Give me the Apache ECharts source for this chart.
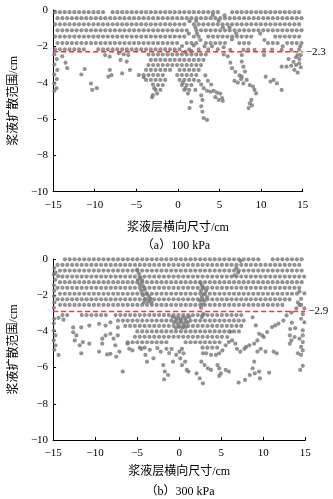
<!DOCTYPE html>
<html><head><meta charset="utf-8">
<script src="https://cdn.jsdelivr.net/npm/echarts@6/dist/echarts.min.js"></script>
<style>html,body{margin:0;padding:0;background:#fff}#c{width:333px;height:499px}</style>
</head><body><div id="c"></div>
<script>
// lattice of particle x positions (cm) for alternating packed rows
const latticeE = [-14.75,-14.18,-13.6,-13.03,-12.45,-11.88,-11.3,-10.73,-10.15,-9.58,-9.0,-8.43,-7.85,-7.28,-6.7,-6.13,-5.55,-4.98,-4.4,-3.83,-3.25,-2.68,-2.1,-1.53,-0.95,-0.38,0.2,0.77,1.35,1.92,2.5,3.07,3.65,4.22,4.8,5.37,5.95,6.52,7.1,7.67,8.25,8.82,9.4,9.97,10.55,11.12,11.7,12.27,12.85,13.42,14.0,14.57];
const latticeO = [-14.47,-13.89,-13.32,-12.74,-12.17,-11.59,-11.02,-10.44,-9.87,-9.29,-8.72,-8.14,-7.57,-6.99,-6.42,-5.84,-5.27,-4.69,-4.12,-3.54,-2.97,-2.39,-1.82,-1.24,-0.67,-0.09,0.48,1.06,1.63,2.21,2.78,3.36,3.93,4.51,5.08,5.66,6.23,6.81,7.38,7.96,8.53,9.11,9.68,10.26,10.83,11.41,11.98,12.56,13.13,13.71,14.28,14.86];

// panel (a) 100 kPa: packed rows [y, lattice, x-extents]
const rowsA = [
  [-0.12,'E',[[-15,-8.8],[-8.2,5.3],[6.0,15]]],
  [-0.45,'O',[[-15,15]]],
  [-0.79,'E',[[-15,0.9],[1.6,15]]],
  [-1.12,'O',[[-15,1.2],[1.8,15]]],
  [-1.46,'E',[[-15,1.0],[1.6,3.0],[3.4,9.2],[11.2,15]]],
  [-1.82,'O',[[-15,0.0],[1.0,2.4],[3.0,6.0],[7.0,9.0],[10.3,12.0],[13.0,15]]],
  [-2.17,'E',[[-14.8,-13.0],[-12.5,-11.0],[-9.6,-7.6],[-7.4,0.3],[1.0,1.5],[2.3,2.6],[3.5,3.8],[4.6,4.9]]],
  [-2.45,'O',[[-3.9,3.6]]],
  [-2.75,'E',[[-3.5,3.3]]],
  [-3.03,'O',[[-4.1,3.0]]],
  [-3.30,'E',[[-4.3,-0.8],[-0.3,2.7]]],
  [-3.58,'O',[[-4.7,-1.3],[-0.6,2.4]]],
  [-3.85,'E',[[-4.1,-1.5],[-0.3,2.0]]],
  [-4.13,'O',[[-2.8,-1.5],[0.4,1.8]]],
  [-4.40,'E',[[-2.7,-1.9],[0.7,1.5]]]
];
// panel (a) loose particles [x, y]
const scatterA = [
  [1.4,-0.62],[2.2,-0.6],[2.1,-0.95],[2.3,-1.3],[1.3,-1.3],[2.7,-1.65],[1.9,-1.95],[0.5,-1.98],[0.9,-2.3],[1.6,-2.25],
  [6.5,-1.62],[7.0,-1.3],[6.2,-0.95],[9.9,-1.3],[10.4,-1.65],[12.6,-2.0],[14.7,-2.0],[4.2,-0.28],[5.6,-0.3],[4.9,-0.6],
  [5.4,-0.95],[3.2,-2.0],[4.1,-2.0],[5.5,-2.05],[6.3,-2.2],
  [7.87,-2.2],[8.45,-2.18],[9.21,-2.2],[10.36,-2.2],[11.32,-2.18],[12.47,-2.2],[13.62,-2.2],[14.58,-2.18],
  [-14.85,-2.45],[-14.55,-2.7],[-14.85,-3.0],[-14.5,-3.3],[-14.85,-3.55],[-14.55,-3.8],[-14.85,-4.05],[-14.6,-4.3],[-14.85,-4.45],
  [-13.9,-2.55],[-13.5,-2.9],[-13.3,-3.2],[-11.6,-3.55],[-11.2,-3.25],[-10.45,-4.05],[-10.3,-4.4],[-9.75,-4.3],
  [-8.75,-2.48],[-8.2,-2.57],[-8.18,-3.3],[-8.36,-3.67],[-7.98,-3.58],
  [-7.1,-2.38],[-6.5,-2.44],[-5.96,-2.48],[-6.9,-2.75],[-6.15,-2.84],[-6.7,-3.49],[-5.77,-3.3],
  [-4.1,-3.7],[-3.0,-4.1],[-2.85,-4.3],[-3.0,-4.68],[-3.1,-4.8],[-2.5,-4.6],
  [0.9,-4.3],[1.2,-4.6],[2.1,-4.4],[2.5,-3.9],[2.8,-4.1],[3.1,-4.3],[3.5,-4.45],[3.9,-4.5],[4.3,-4.45],[4.7,-4.55],
  [5.1,-4.6],[5.3,-4.85],[4.9,-4.95],[5.4,-5.0],[4.5,-4.8],[2.8,-4.7],
  [1.6,-5.05],[1.4,-5.4],[2.95,-4.95],[2.8,-5.3],[2.95,-5.6],[3.1,-5.95],[3.5,-6.05],[0.6,-4.0],[3.3,-3.6],[3.6,-3.9],[4.0,-4.1],
  [5.5,-2.45],[6.0,-2.55],[6.3,-2.9],[6.5,-3.2],[6.9,-3.4],[7.4,-3.6],[6.8,-3.9],[7.2,-4.0],[7.6,-3.8],
  [7.68,-2.48],[7.68,-2.84],[7.87,-3.12],[8.06,-3.39],[7.68,-3.67],[8.26,-3.85],[7.87,-4.04],[8.64,-4.13],[9.02,-4.22],
  [9.21,-4.4],[9.4,-4.59],[8.83,-4.95],[8.64,-5.14],[8.9,-5.25],[8.5,-5.4],
  [10.36,-2.48],[10.55,-3.67],[11.13,-3.94],[11.51,-3.85],[11.9,-4.04],[12.47,-4.4],
  [12.47,-3.12],[13.05,-3.12],[13.62,-3.07],[14.2,-3.03],[14.58,-2.94],[14.77,-3.15],[14.0,-3.3],[14.4,-3.45],
  [14.6,-2.7],[14.2,-2.6],[14.77,-2.48],[13.9,-2.85],[14.39,-2.48],[13.3,-2.7]
];

// panel (b) 300 kPa
const rowsB = [
  [-0.02,'E',[[-14.6,-14.4],[-13.9,6.6],[7.0,9.9],[10.7,15]]],
  [-0.33,'O',[[-14.6,14.3]]],
  [-0.64,'E',[[-14.3,15]]],
  [-0.97,'O',[[-14.0,15]]],
  [-1.28,'E',[[-14.3,15]]],
  [-1.59,'O',[[-14.6,14.4]]],
  [-1.92,'E',[[-14.3,14.1]]],
  [-2.23,'O',[[-14.6,13.3]]],
  [-2.54,'E',[[-14.3,12.3]]],
  [-3.10,'O',[[-14.3,-13.0],[-11.9,-8.4],[-7.7,7.9]]],
  [-3.40,'E',[[-7.7,7.7]]],
  [-3.70,'O',[[-6.9,7.5]]],
  [-4.00,'E',[[-5.4,7.4]]],
  [-4.30,'O',[[-5.4,5.4]]],
  [-4.60,'E',[[-6.2,-1.5],[0.3,5.0]]],
  [-4.90,'O',[[-5.0,-3.6],[2.6,4.6]]]
];
const scatterB = [
  [-14.85,-0.5],[-14.9,-0.85],[-14.75,-1.15],[-14.9,-1.45],[-14.85,-1.75],[-14.9,-2.05],[-14.85,-2.4],[-14.9,-2.7],
  [-14.85,-3.3],[-14.92,-3.55],[-14.7,-0.75],[-14.4,-0.95],
  [-14.35,-3.25],[-13.77,-3.35],[-12.61,-3.78],[-11.65,-3.78],[-10.69,-3.68],[-9.53,-3.58],[-8.76,-3.68],[-8.18,-3.5],
  [-14.92,-3.95],[-14.73,-4.22],[-14.92,-4.5],[-14.73,-4.77],[-14.85,-5.02],[-14.35,-5.3],
  [-12.61,-4.05],[-12.23,-4.22],[-12.42,-4.5],[-11.84,-4.77],[-11.46,-4.59],[-10.69,-4.68],[-11.65,-5.21],
  [-9.53,-5.12],[-8.57,-5.27],[-8.18,-5.24],[-9.15,-4.68],[-8.76,-4.22],[-8.18,-4.13],[-7.8,-4.4],[-7.6,-4.77],[-9.15,-4.4],
  [-7.3,-4.22],[-7.3,-3.78],[-6.14,-4.68],[-5.95,-4.96],[-5.56,-5.05],[-7.1,-5.12],[-7.49,-5.4],[-6.72,-6.22],
  [-4.5,-4.97],[-4.02,-5.3],[-3.5,-5.02],[-3.06,-5.49],[-3.83,-5.67],[-2.6,-4.92],[-2.2,-5.12],[-1.9,-5.86],[-1.71,-6.22],
  [-1.32,-6.41],[-1.2,-5.2],[-0.9,-4.97],[-0.75,-5.67],[-0.36,-5.3],[0.02,-5.12],[-1.52,-4.96],
  [-1.79,-6.65],[0.9,-6.13],[2.06,-6.32],[2.44,-6.6],[2.82,-6.87],[4.76,-6.46],[7.07,-6.83],[7.84,-6.68],[8.4,-6.41],
  [8.99,-6.32],[9.6,-6.6],[10.7,-6.28],[14.4,-6.13],
  [0.33,-4.96],[0.52,-5.21],[0.13,-5.49],[0.71,-5.67],[0.33,-5.86],[1.1,-6.22],[2.64,-5.67],[3.02,-5.86],[3.41,-6.04],
  [3.79,-6.13],[4.56,-5.86],[4.76,-6.04],[4.95,-6.32],[5.53,-6.13],[5.91,-6.22],
  [5.72,-4.31],[5.91,-4.59],[5.53,-4.77],[5.14,-5.05],[4.76,-5.21],[4.37,-5.3],[3.79,-5.3],[3.21,-5.21],[2.83,-5.21],
  [6.3,-4.5],[6.68,-4.68],[6.87,-4.96],[7.26,-5.12],[6.1,-4.02],
  [14.31,-2.54],[13.93,-2.73],[13.35,-2.96],[12.77,-3.12],[12.39,-3.4],[11.81,-3.57],[11.42,-3.67],[11.04,-3.76],
  [10.46,-4.04],[9.88,-4.22],[9.3,-4.5],[8.92,-4.68],[8.34,-4.77],[7.96,-4.86],[7.76,-4.96],
  [8.73,-3.22],[9.11,-3.67],[9.5,-4.13],[10.07,-4.31],[9.69,-4.96],[9.3,-5.12],[10.27,-5.12],[11.23,-5.12],[11.61,-5.21],
  [8.92,-5.67],[8.73,-6.04],[9.5,-6.22],
  [13.16,-4.22],[13.73,-4.31],[14.31,-4.4],[14.7,-3.94],[14.7,-4.22],[14.7,-4.59],[14.5,-4.86],[14.7,-5.05],[14.5,-5.3],
  [14.12,-5.21],[13.16,-4.68],[13.35,-4.5],[14.7,-5.9],
  [14.5,-2.54],[14.89,-2.73],[14.7,-3.05],[14.5,-3.3],[14.89,-3.5],[13.4,-3.52],[13.8,-3.82],[13.2,-3.87],
  [14.12,-2.4],[14.5,-2.2],[14.89,-1.9],[14.31,-1.8],
  [-5.0,-0.6],[-4.8,-0.8],[-4.6,-1.05],[-4.9,-1.15],[-4.4,-1.2],[-4.7,-1.4],[-4.3,-1.5],[-4.5,-1.75],[-4.1,-1.7],
  [-3.9,-1.9],[-4.3,-2.0],[-3.6,-2.05],[-3.4,-2.2],[-4.0,-2.2],[-3.7,-2.35],[-3.3,-2.4],[-4.2,-2.4],
  [2.5,-1.3],[2.7,-1.45],[2.9,-1.6],[2.6,-1.75],[3.2,-1.75],[2.9,-1.95],[2.7,-2.1],[3.3,-2.1],[2.5,-2.3],[3.0,-2.3],
  [2.8,-2.5],[2.6,-2.7],[2.9,-3.05],[2.7,-3.2],
  [-0.8,-3.2],[-0.4,-3.25],[0.0,-3.3],[0.4,-3.25],[0.8,-3.25],[1.2,-3.2],[-0.6,-3.5],[-0.2,-3.55],[0.2,-3.5],
  [0.6,-3.55],[1.0,-3.5],[-0.4,-3.8],[0.0,-3.75],[0.4,-3.8],[0.8,-3.75],
  [7.3,-0.1],[6.8,-0.5],[7.0,-0.75],[6.6,-0.9]
];

const refA = -2.3, refB = -2.9;
const xRange = [-15, 15], yRange = [-10, 0];
const captions = ['（a）100 kPa', '（b）300 kPa'];
const xName = '浆液层横向尺寸/cm', yName = '浆液扩散范围/cm';
const RED = '#f03c3c';

function buildRows(rows) {
  const pts = [];
  rows.forEach(([y, lat, segs]) => {
    const xs = lat === 'E' ? latticeE : latticeO;
    xs.forEach(x => { if (segs.some(([a, b]) => x >= a && x <= b)) pts.push([x, y]); });
  });
  return pts;
}

const FONT = "'Liberation Serif','Noto Sans CJK SC',serif";
const minus = v => String(v).replace('-', '\u2212');
function xAx(i, gap) {
  return {
    gridIndex: i, type: 'value', min: xRange[0], max: xRange[1], interval: 5,
    name: xName, nameLocation: 'middle', nameGap: gap,
    nameTextStyle: { fontFamily: FONT, fontSize: 12, color: '#000' },
    axisLine: { onZero: false, lineStyle: { color: '#000', width: 1 } },
    axisTick: { inside: true, length: 3, lineStyle: { color: '#000' } },
    axisLabel: { formatter: minus, fontFamily: FONT, fontSize: 11, color: '#000', margin: 8 },
    splitLine: { show: false }
  };
}
function yAx(i) {
  return {
    gridIndex: i, type: 'value', min: yRange[0], max: yRange[1], interval: 2,
    name: yName, nameLocation: 'middle', nameGap: 24,
    nameTextStyle: { fontFamily: FONT, fontSize: 12, color: '#000' },
    axisLine: { onZero: false, lineStyle: { color: '#000', width: 1 } },
    axisTick: { inside: true, length: 3, lineStyle: { color: '#000' } },
    axisLabel: { formatter: minus, fontFamily: FONT, fontSize: 11, color: '#000', margin: 5 },
    splitLine: { show: false }
  };
}
function dots(i, data) {
  return {
    type: 'scatter', xAxisIndex: i, yAxisIndex: i, data: data, z: 2,
    symbol: 'circle', symbolSize: 4.2, itemStyle: { color: '#787878' }
  };
}
function refLine(i, ref) {
  return {
    type: 'line', xAxisIndex: i, yAxisIndex: i, z: 10,
    data: [[xRange[0], ref], [xRange[1], ref]],
    showSymbol: false, symbol: 'none', silent: true,
    lineStyle: { color: RED, type: [5, 3], width: 1.4 },
    itemStyle: { color: RED },
    endLabel: { show: true, formatter: minus(ref), color: '#000', fontFamily: FONT, fontSize: 11, distance: 3 }
  };
}

const chart = echarts.init(document.getElementById('c'), null, { renderer: 'canvas' });
chart.setOption({
  animation: false,
  backgroundColor: '#fff',
  title: [
    { text: captions[0], left: 171, top: 235, textAlign: 'center', textStyle: { fontFamily: FONT, fontSize: 12, fontWeight: 'normal', color: '#000' } },
    { text: captions[1], left: 175, top: 481, textAlign: 'center', textStyle: { fontFamily: FONT, fontSize: 12, fontWeight: 'normal', color: '#000' } }
  ],
  grid: [
    { left: 42.3, right: 30.3, top: 10, height: 181.7 },
    { left: 45.7, right: 27.7, top: 259, height: 181 }
  ],
  xAxis: [xAx(0, 30), xAx(1, 26)],
  yAxis: [yAx(0), yAx(1)],
  series: [
    dots(0, buildRows(rowsA).concat(scatterA)),
    dots(1, buildRows(rowsB).concat(scatterB)),
    refLine(0, refA),
    refLine(1, refB)
  ]
});
</script></body></html>
